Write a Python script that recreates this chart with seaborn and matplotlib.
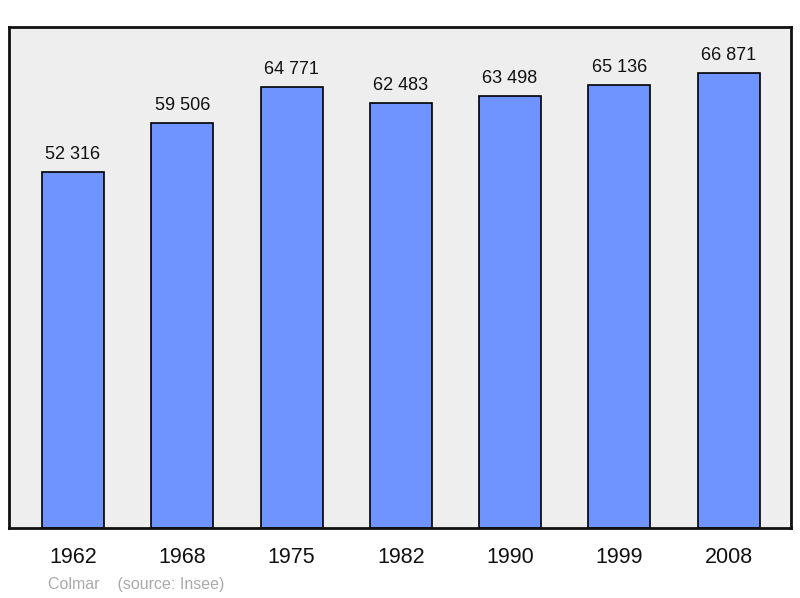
import matplotlib
matplotlib.use("Agg")
import matplotlib.pyplot as plt
import seaborn as sns
import pandas as pd

years = ["1962", "1968", "1975", "1982", "1990", "1999", "2008"]
population = [52316, 59506, 64771, 62483, 63498, 65136, 66871]
labels = ["52 316", "59 506", "64 771", "62 483", "63 498", "65 136", "66 871"]

sns.set_theme(style="white")
plt.rcParams['font.family'] = ['Liberation Sans', 'DejaVu Sans']

df = pd.DataFrame({"year": years, "pop": population})
fig = plt.figure(figsize=(8, 5.98), dpi=100)
ax = fig.add_axes([9/800, 70/598, 782/800, 501/598])
ax.set_facecolor("#eeeeee")
sns.barplot(data=df, x="year", y="pop", color="#7094ff", saturation=1,
            width=0.567, edgecolor="black", linewidth=1.2, ax=ax)
for i, (v, t) in enumerate(zip(population, labels)):
    ax.text(i, v + 1300, t, ha="center", va="bottom", fontsize=13, color="#111111")
ax.set_xlim(-0.585, 6.57)
ax.set_ylim(0, 73620)
ax.set_yticks([])
ax.set_xlabel("")
ax.set_ylabel("")
ax.tick_params(axis="x", labelsize=15.5, length=0, pad=14, colors="#111111")
for s in ax.spines.values():
    s.set_color("#111111")
    s.set_linewidth(2)
fig.text(48/800, 1 - 584/598, "Colmar    (source: Insee)", fontsize=11.5,
         color="#aaaaaa", va="center")
fig.savefig("out.png", dpi=100)
